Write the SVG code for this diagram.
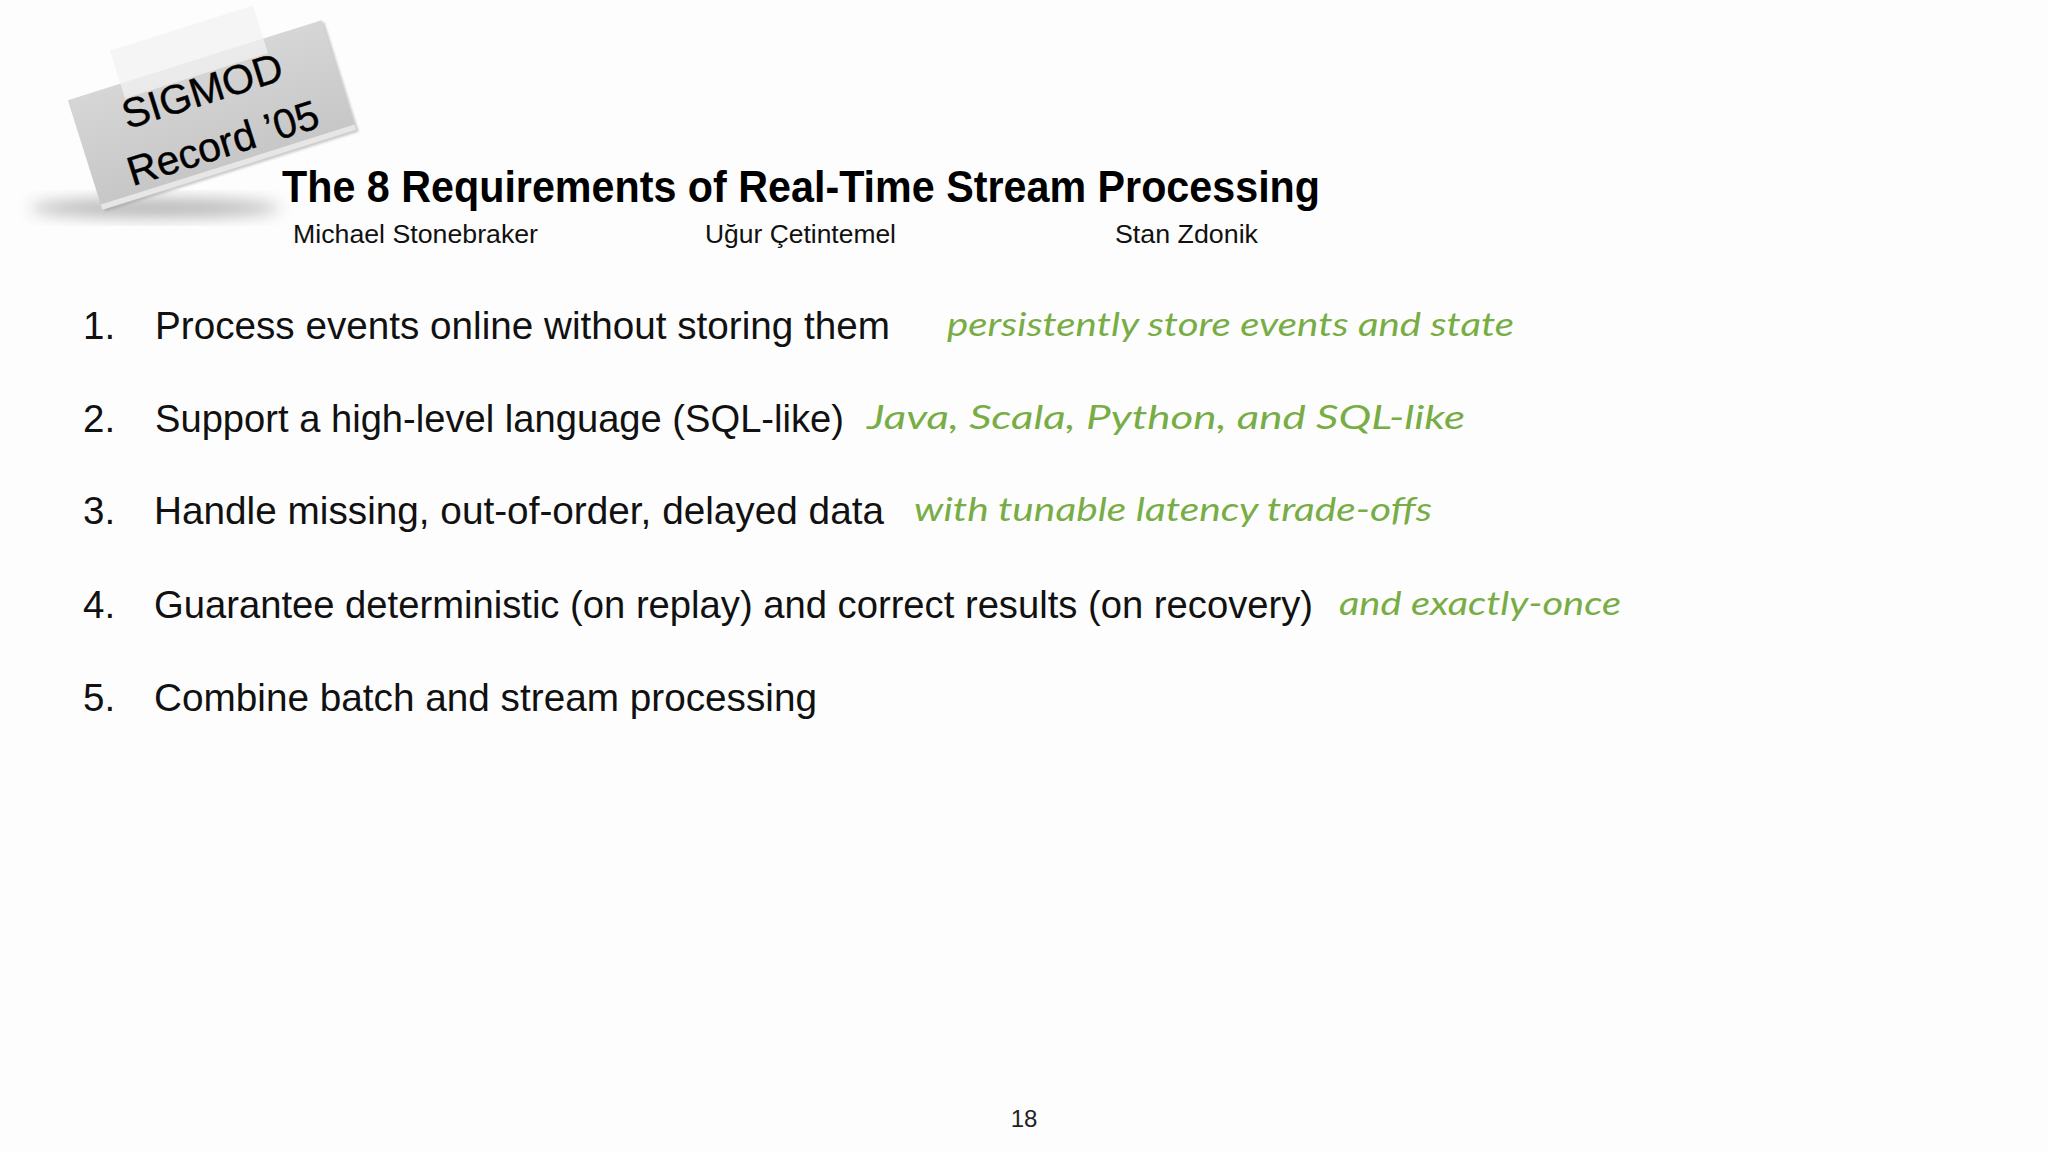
<svg xmlns="http://www.w3.org/2000/svg" width="2048" height="1152" viewBox="0 0 2048 1152">
<defs>
<style>
.item{font-family:"Liberation Sans",Arial,sans-serif;font-size:38.5px;fill:#111}
.note{font-family:Lato,"Noto Sans",sans-serif;font-style:italic;font-size:32px;fill:#78ad45}
.auth{font-family:"Liberation Sans",Arial,sans-serif;font-size:25px;fill:#111}
.stk{font-family:"Liberation Sans",Arial,sans-serif;font-size:41px;fill:#000;stroke:#000;stroke-width:0.4}
</style>
<filter id="blur" x="-50%" y="-50%" width="200%" height="200%"><feGaussianBlur stdDeviation="8"/></filter>
<filter id="soft" x="-20%" y="-20%" width="140%" height="140%"><feGaussianBlur stdDeviation="1.2"/></filter>
<linearGradient id="paper" x1="0" y1="0" x2="0" y2="1">
<stop offset="0" stop-color="#d6d6d6"/>
<stop offset="1" stop-color="#c6c6c6"/>
</linearGradient>
</defs>
<rect width="2048" height="1152" fill="#fdfdfd"/>
<g id="sticker">
<ellipse cx="155" cy="208" rx="125" ry="9" fill="#777" opacity="0.55" filter="url(#blur)"/>
<g transform="translate(212,115) rotate(-17.5)">
<rect x="-131" y="-55" width="266" height="115" fill="#999" opacity="0.5" filter="url(#soft)"/>
<rect x="-133" y="-57.5" width="266" height="115" fill="url(#paper)"/>
<rect x="-133" y="52" width="266" height="5.5" fill="#e6e6e6"/>
<rect x="-78" y="-92" width="150" height="50" fill="#f2f2f2" opacity="0.75"/>
<text class="stk" x="-2" y="-12" text-anchor="middle">SIGMOD</text>
<text class="stk" x="2" y="44" text-anchor="middle">Record ’05</text>
</g>
</g>
<g id="title">
<text x="282" y="202" font-family="Liberation Sans,Arial,sans-serif" font-weight="bold" font-size="44" fill="#000" textLength="1038" lengthAdjust="spacingAndGlyphs">The 8 Requirements of Real-Time Stream Processing</text>
<text class="auth" x="293" y="243" textLength="245" lengthAdjust="spacingAndGlyphs">Michael Stonebraker</text>
<text class="auth" x="705" y="243" textLength="191" lengthAdjust="spacingAndGlyphs">Uğur Çetintemel</text>
<text class="auth" x="1115" y="243" textLength="143" lengthAdjust="spacingAndGlyphs">Stan Zdonik</text>
</g>
<g id="item1">
<text class="item" x="83" y="339">1.</text>
<text class="item" x="155" y="339" textLength="735" lengthAdjust="spacingAndGlyphs">Process events online without storing them</text>
<text class="note" x="947" y="336" textLength="567" lengthAdjust="spacingAndGlyphs">persistently store events and state</text>
</g>
<g id="item2">
<text class="item" x="83" y="432">2.</text>
<text class="item" x="155" y="432" textLength="689" lengthAdjust="spacingAndGlyphs">Support a high-level language (SQL-like)</text>
<text class="note" x="867" y="429" textLength="598" lengthAdjust="spacingAndGlyphs">Java, Scala, Python, and SQL-like</text>
</g>
<g id="item3">
<text class="item" x="83" y="524">3.</text>
<text class="item" x="154" y="524" textLength="730" lengthAdjust="spacingAndGlyphs">Handle missing, out-of-order, delayed data</text>
<text class="note" x="914" y="521" textLength="518" lengthAdjust="spacingAndGlyphs">with tunable latency trade-offs</text>
</g>
<g id="item4">
<text class="item" x="83" y="618">4.</text>
<text class="item" x="154" y="618" textLength="1159" lengthAdjust="spacingAndGlyphs">Guarantee deterministic (on replay) and correct results (on recovery)</text>
<text class="note" x="1339" y="615" textLength="282" lengthAdjust="spacingAndGlyphs">and exactly-once</text>
</g>
<g id="item5">
<text class="item" x="83" y="711">5.</text>
<text class="item" x="154" y="711" textLength="663" lengthAdjust="spacingAndGlyphs">Combine batch and stream processing</text>
</g>
<g id="connectors"/>
<text x="1024" y="1127" text-anchor="middle" font-family="Liberation Sans,Arial,sans-serif" font-size="24" fill="#222">18</text>
</svg>
